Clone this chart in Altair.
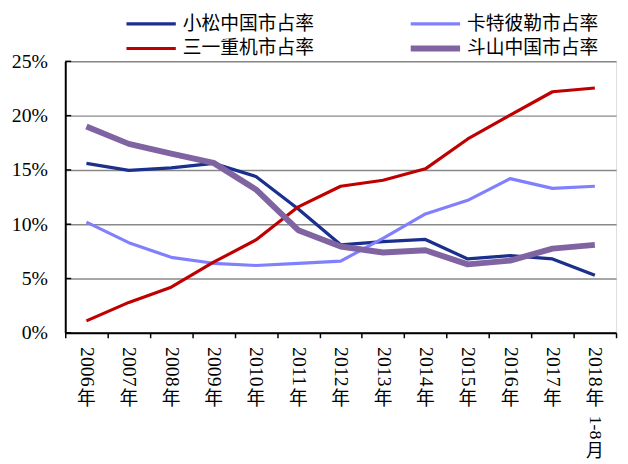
import altair as alt
import pandas as pd

categories = ["2006年", "2007年", "2008年", "2009年", "2010年", "2011年", "2012年",
              "2013年", "2014年", "2015年", "2016年", "2017年", "2018年1-8月"]
series_names = ["小松中国市占率", "卡特彼勒市占率", "三一重机市占率", "斗山中国市占率"]
komatsu = [15.6, 14.95, 15.2, 15.6, 14.4, 11.4, 8.1, 8.4, 8.6, 6.8, 7.1, 6.8, 5.3]
caterpillar = [10.2, 8.3, 6.95, 6.4, 6.2, 6.4, 6.6, 8.7, 10.95, 12.2, 14.2, 13.3, 13.5]
sany = [1.1, 2.8, 4.2, 6.5, 8.55, 11.6, 13.5, 14.05, 15.1, 17.85, 20.05, 22.2, 22.55]
doosan = [19.0, 17.4, 16.5, 15.65, 13.2, 9.45, 7.95, 7.4, 7.6, 6.3, 6.65, 7.75, 8.1]
y_ticks = [0, 5, 10, 15, 20, 25]

colors = ["#1B2F8C", "#8080FF", "#C00000", "#8064A2"]
widths = [3.3, 3.2, 3.2, 6]

values = [komatsu, caterpillar, sany, doosan]
rows = []
for name, vals in zip(series_names, values):
    for c, v in zip(categories, vals):
        rows.append({"cat": c, "series": name, "value": v})
df = pd.DataFrame(rows)

cat_df = pd.DataFrame({"cat": categories})
tick_df = pd.DataFrame({"v": y_ticks})

xscale = alt.Scale(type="band", domain=categories, paddingInner=0, paddingOuter=0)
yscale = alt.Scale(domain=[0, 25], nice=False)

x_enc = alt.X("cat:N", scale=xscale, sort=categories, bandPosition=0.5,
              axis=alt.Axis(title=None,
                            labelExpr="datum.value ? substring(datum.value, 0, 4) : ''",
                            labelAngle=90, labelAlign="left", labelBaseline="middle",
                            labelPadding=9, labelFont="Liberation Serif", labelFontSize=20,
                            labelColor="black", tickBand="extent", tickSize=5,
                            tickColor="black", tickWidth=1.5, domainColor="black",
                            domainWidth=2, grid=False))
y_enc = alt.Y("value:Q", scale=yscale,
              axis=alt.Axis(title=None, values=y_ticks, labelExpr="datum.value + '%'",
                            labelFont="Liberation Serif", labelFontSize=20,
                            labelColor="black", labelPadding=18, ticks=False,
                            domainColor="black", domainWidth=2, grid=True,
                            gridColor="#888888", gridWidth=1.5))

base = alt.Chart(df).mark_line(strokeCap="butt", strokeJoin="round").encode(
    x=x_enc,
    y=y_enc,
    color=alt.Color("series:N", scale=alt.Scale(domain=series_names, range=colors),
                    legend=None),
    strokeWidth=alt.StrokeWidth("series:O",
                                scale=alt.Scale(type="ordinal", domain=series_names,
                                                range=widths),
                                legend=None),
)

lines = [base.transform_filter(alt.datum.series == s) for s in series_names]

ticks = alt.Chart(tick_df).mark_rule(color="black", strokeWidth=1.5).encode(
    y=alt.Y("v:Q", scale=yscale), x=alt.value(0), x2=alt.value(6))

nian = alt.Chart(cat_df).mark_text(font="Noto Sans CJK SC", fontSize=19, color="black",
                                   baseline="middle", align="center").encode(
    x=alt.X("cat:N", scale=xscale, sort=categories, bandPosition=0.5),
    y=alt.value(342), text=alt.value("年"))

last_rot = alt.Chart(cat_df).transform_filter(
    alt.datum.cat == categories[-1]).mark_text(
    font="Liberation Serif", fontSize=18, color="black", angle=90,
    align="left", baseline="middle").encode(
    x=alt.X("cat:N", scale=xscale, sort=categories, bandPosition=0.5),
    y=alt.value(359), text=alt.value("1-8"))

last_yue = alt.Chart(cat_df).transform_filter(
    alt.datum.cat == categories[-1]).mark_text(
    font="Noto Sans CJK SC", fontSize=18, color="black",
    align="center", baseline="middle").encode(
    x=alt.X("cat:N", scale=xscale, sort=categories, bandPosition=0.5),
    y=alt.value(396), text=alt.value("月"))

# legend: 2 columns, filled row by row
legend_layers = []
leg_x0, leg_y0, col_step, row_step, sym_len, lab_gap = 62, -38, 288, 25, 50, 57
for i, (name, col, w) in enumerate(zip(series_names, colors, widths)):
    lx = leg_x0 + (i % 2) * col_step
    ly = leg_y0 + (i // 2) * row_step
    one = pd.DataFrame({"series": [name]})
    legend_layers.append(
        alt.Chart(one).mark_rule(color=col, strokeWidth=w, strokeCap="butt").encode(
            x=alt.value(lx), x2=alt.value(lx + sym_len), y=alt.value(ly)))
    legend_layers.append(
        alt.Chart(one).mark_text(font="Noto Sans CJK SC", fontSize=19, color="black",
                                 align="left", baseline="middle").encode(
            x=alt.value(lx + lab_gap), y=alt.value(ly), text="series:N"))

chart = alt.layer(*lines, ticks, nian, last_rot, last_yue, *legend_layers).properties(
    width=558, height=275,
    autosize=alt.AutoSizeParams(type="none"),
    padding={"left": 58, "top": 51, "right": 4, "bottom": 140},
).configure_view(stroke=None).configure(background="white")

chart.save("out.html", embed_options={"renderer": "svg", "actions": False})
